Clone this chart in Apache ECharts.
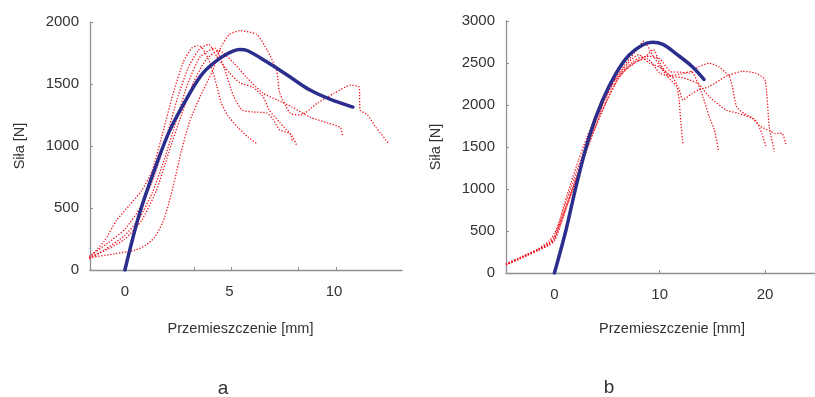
<!DOCTYPE html>
<html>
<head>
<meta charset="utf-8">
<script src="https://cdn.jsdelivr.net/npm/echarts@6/dist/echarts.min.js"></script>
<style>html,body{margin:0;padding:0;background:#fff}#c{width:815px;height:397px}</style>
</head>
<body>
<div id="c"></div>
<script>
// ---- Panel a ----
const aXLabels = [0, 5, 10];
const aXTicks = [3.3, 5.1, 8.3, 10.1];
const aYTicks = [0, 500, 1000, 1500, 2000];
const aBlue = [[0,0],[0.72,467],[1.53,862],[2.15,1128],[2.97,1386],[3.73,1588],[4.55,1709],[5.17,1765],[5.5,1778],[5.84,1770],[6.8,1677],[7.9,1556],[8.85,1451],[9.8,1378],[10.9,1314]];
const aRed1 = [[-1.7,100],[-1.0,230],[-0.4,400],[0.2,520],[0.8,640],[1.3,800],[1.8,1100],[2.3,1420],[2.8,1680],[3.2,1790],[3.5,1810],[3.7,1790],[4.0,1700],[4.2,1600],[4.4,1480],[4.6,1350],[4.9,1250],[5.4,1150],[5.9,1070],[6.3,1020]];
const aRed2 = [[-1.7,110],[-0.8,220],[0,330],[0.8,520],[1.4,760],[2.0,1080],[2.5,1380],[3.0,1620],[3.5,1770],[4.0,1820],[4.4,1720],[5.0,1590],[5.5,1510],[6.1,1475],[6.6,1400],[6.9,1290],[7.4,1190],[8.0,1080],[8.2,1010]];
const aRed3 = [[-1.7,90],[-1.0,160],[0,280],[0.7,420],[1.3,620],[1.9,900],[2.5,1230],[3.0,1500],[3.6,1720],[4.3,1790],[4.7,1650],[5.2,1400],[5.6,1290],[6.1,1275],[6.8,1265],[7.1,1210],[7.4,1130],[7.9,1100],[8.0,1040]];
const aRed4 = [[-1.7,100],[-0.8,170],[0,250],[0.8,400],[1.5,640],[2.1,950],[2.7,1250],[3.3,1520],[3.9,1700],[4.5,1770],[5.2,1670],[5.8,1556],[6.6,1426],[7.3,1370],[8.0,1314],[8.85,1233],[9.7,1185],[10.3,1150],[10.4,1088]];
const aRed5 = [[-1.7,100],[-0.5,130],[0.5,160],[1.0,200],[1.4,260],[1.8,380],[2.1,540],[2.4,740],[2.7,960],[3.1,1200],[3.6,1400],[4.2,1610],[4.6,1800],[5.0,1900],[5.5,1930],[6.3,1900],[6.8,1775],[7.25,1610],[7.4,1430],[7.9,1265],[8.4,1250],[9.2,1345],[10.0,1425],[10.8,1490],[11.2,1475],[11.25,1290],[11.6,1250],[12.0,1150],[12.6,1025]];

// ---- Panel b ----
const bXLabels = [0, 10, 20];
const bXTicks = [10, 20];
const bYTicks = [0, 500, 1000, 1500, 2000, 2500, 3000];
const bBlue = [[0,0],[1.1,512],[2.05,1028],[3.3,1623],[4.58,2059],[5.85,2377],[7.1,2595],[8.37,2714],[9.3,2746],[10.3,2722],[11.5,2615],[13.1,2456],[14.2,2305]];
const bRed1 = [[-4.6,100],[-3,190],[-1.5,280],[-0.5,350],[0,420],[0.5,620],[1.0,850],[1.6,1080],[2.3,1350],[3.1,1620],[4.0,1900],[4.9,2150],[5.8,2330],[6.7,2480],[7.6,2620],[8.5,2760],[9.3,2600],[10.3,2420],[11.2,2330],[11.6,2250],[11.85,2050],[12.0,1800],[12.2,1545]];
const bRed2 = [[-4.6,110],[-3,200],[-1.5,290],[-0.5,380],[0,470],[0.6,650],[1.2,880],[1.9,1130],[2.7,1420],[3.6,1720],[4.6,2020],[5.5,2250],[6.4,2380],[7.3,2470],[8.0,2530],[8.7,2580],[9.4,2660],[10.0,2500],[11.0,2350],[12.0,2370],[13.0,2400],[13.5,2300],[14.1,2100],[14.7,1860],[15.2,1700],[15.6,1445]];
const bRed3 = [[-4.6,95],[-3,185],[-1.5,270],[-0.5,330],[0,380],[0.5,540],[1.1,780],[1.9,1060],[2.8,1380],[3.7,1680],[4.7,1980],[5.6,2220],[6.5,2400],[7.4,2510],[8.2,2570],[9.0,2580],[10,2550],[11,2400],[12.0,2390],[12.8,2380],[13.7,2456],[14.7,2496],[15.6,2456],[16.6,2340],[16.9,2220],[17.3,1980],[18,1900],[19.1,1820],[19.7,1660],[20.1,1505]];
const bRed4 = [[-4.6,105],[-3,195],[-1.5,285],[-0.5,360],[0,430],[0.7,640],[1.5,930],[2.2,1180],[3.0,1480],[3.9,1780],[4.8,2060],[5.7,2290],[6.6,2440],[7.3,2540],[8.0,2600],[9,2500],[10,2450],[11,2300],[11.8,2200],[12.2,2060],[13.0,2130],[13.7,2180],[14.7,2220],[16.3,2340],[17.9,2400],[19.1,2380],[20.0,2300],[20.4,1740],[20.9,1445]];
const bRed5 = [[-4.6,100],[-3,190],[-1.5,275],[-0.5,340],[0,400],[0.6,590],[1.4,870],[2.3,1190],[3.2,1510],[4.1,1800],[5.1,2080],[6.0,2300],[6.9,2440],[7.8,2520],[8.8,2550],[10,2380],[11,2340],[12,2330],[12.8,2300],[13.7,2250],[14.7,2100],[16.3,1940],[17.5,1900],[18.8,1840],[19.5,1750],[20.5,1690],[21.0,1660],[21.6,1665],[22.0,1525]];

const FONT = '"Liberation Sans", Arial, sans-serif';
const AXIS_COLOR = '#8a9096';
const TEXT_COLOR = '#333';
const RED = '#f0141e';
const BLUE = '#2b2e8c';

function xAxisCfg(gridIndex, min, max, labels, ticks, gap, pad) {
  return {
    type: 'value', gridIndex, min, max,
    name: 'Przemieszczenie [mm]', nameLocation: 'middle', nameGap: gap,
    nameTextStyle: { fontFamily: FONT, fontSize: 14.5, color: TEXT_COLOR, padding: pad },
    axisLine: { show: true, onZero: false, lineStyle: { color: AXIS_COLOR, width: 1.3 } },
    axisTick: { show: true, inside: true, length: 3, customValues: ticks, lineStyle: { color: AXIS_COLOR } },
    axisLabel: { customValues: labels, formatter: v => String(v), fontFamily: FONT, fontSize: 15, color: TEXT_COLOR, margin: 14 },
    splitLine: { show: false }
  };
}
function yAxisCfg(gridIndex, max, ticks) {
  return {
    type: 'value', gridIndex, min: 0, max,
    name: 'Siła [N]', nameLocation: 'middle', nameGap: 63, nameRotate: 90,
    nameTextStyle: { fontFamily: FONT, fontSize: 14.5, color: TEXT_COLOR },
    axisLine: { show: true, onZero: false, lineStyle: { color: AXIS_COLOR, width: 1.3 } },
    axisTick: { show: true, inside: true, length: 3, customValues: ticks, lineStyle: { color: AXIS_COLOR } },
    axisLabel: { customValues: ticks, formatter: v => String(v), fontFamily: FONT, fontSize: 15, color: TEXT_COLOR, margin: 11 },
    splitLine: { show: false }
  };
}
function red(data, xi) {
  return { type: 'line', xAxisIndex: xi, yAxisIndex: xi, data, showSymbol: false, smooth: 0.2,
    lineStyle: { color: RED, width: 1.3, type: [1.3, 1.7] }, z: 2, silent: true };
}
function blue(data, xi) {
  return { type: 'line', xAxisIndex: xi, yAxisIndex: xi, data, showSymbol: false, smooth: 0.35,
    lineStyle: { color: BLUE, width: 3.5, cap: 'round' }, z: 3, silent: true };
}

const chart = echarts.init(document.getElementById('c'), null, { renderer: 'canvas' });
chart.setOption({
  animation: false,
  backgroundColor: '#fff',
  grid: [
    { left: 90, top: 22, width: 312, height: 248 },
    { left: 506, top: 21, width: 309, height: 252 }
  ],
  xAxis: [
    xAxisCfg(0, -1.67, 13.25, aXLabels, aXTicks, 51, [0, 11, 0, 0]),
    xAxisCfg(1, -4.6, 24.75, bXLabels, bXTicks, 48, [0, 0, 0, 23])
  ],
  yAxis: [
    yAxisCfg(0, 2000, aYTicks),
    yAxisCfg(1, 3000, bYTicks)
  ],
  graphic: [
    { type: 'text', x: 223, y: 389, style: { text: 'a', fontFamily: FONT, fontSize: 19, fill: TEXT_COLOR, textAlign: 'center', textVerticalAlign: 'middle' } },
    { type: 'text', x: 609, y: 388, style: { text: 'b', fontFamily: FONT, fontSize: 19, fill: TEXT_COLOR, textAlign: 'center', textVerticalAlign: 'middle' } }
  ],
  series: [
    red(aRed1, 0), red(aRed2, 0), red(aRed3, 0), red(aRed4, 0), red(aRed5, 0),
    blue(aBlue, 0),
    red(bRed1, 1), red(bRed2, 1), red(bRed3, 1), red(bRed4, 1), red(bRed5, 1),
    blue(bBlue, 1)
  ]
});
</script>
</body>
</html>
